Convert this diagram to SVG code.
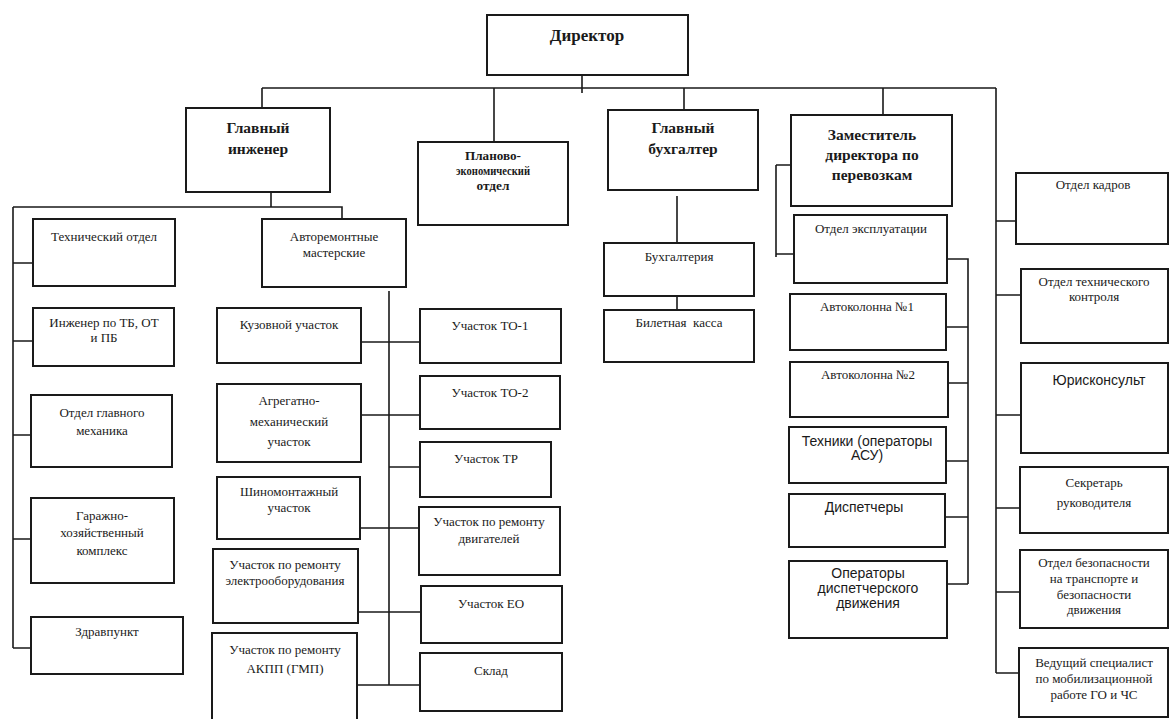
<svg xmlns="http://www.w3.org/2000/svg" width="1170" height="719" viewBox="0 0 1170 719">
<style>
  .bx{fill:#fff;stroke:#1a1a1a;stroke-width:2}
  .ln{fill:none;stroke:#1a1a1a;stroke-width:1.6}
  text{fill:#1a1a1a;text-anchor:middle}
  .t{font-family:"Liberation Serif","Times New Roman",serif;font-size:13px}
  .b{font-family:"Liberation Serif","Times New Roman",serif;font-weight:bold}
  .s{font-family:"Liberation Sans",Arial,sans-serif;font-size:14px}
</style>
<rect width="1170" height="719" fill="#fff"/>
<g id="connectors" class="ln">
  <path d="M582,75V93M262,88H996M262,88V108M494,88V142M684,88V110M883,88V115"/>
  <path d="M271,192V207M13,207H342V219M13,207V648M13,263H33M13,341H33M13,435H31M13,539H31M13,648H31"/>
  <path d="M389,291V685M361,342H420M361,415H420M389,467H420M360,528H420M358,612H421M357,685H420"/>
  <path d="M677,196V243M677,296V310"/>
  <path d="M776,165V257M776,165H791M776,254H794"/>
  <path d="M947,259H968V584M946,327H968M948,383H968M946,461H968M945,517H968M947,584H968"/>
  <path d="M996,88V673M996,221H1021M996,295H1021M996,415H1021M996,508H1020M996,592H1020M996,673H1019"/>
</g>
<g id="director"><rect class="bx" x="487" y="15" width="201" height="60"/><text class="b" font-size="17" x="587" y="41">Директор</text></g>
<g id="chief-engineer"><rect class="bx" x="186" y="108" width="144" height="84"/><text class="b" font-size="15.5"><tspan x="258" y="133">Главный</tspan><tspan x="258" y="154">инженер</tspan></text></g>
<g id="planning"><rect class="bx" x="418" y="142" width="150" height="83"/><text class="b" font-size="13"><tspan x="493" y="160" textLength="56" lengthAdjust="spacingAndGlyphs">Планово-</tspan><tspan x="493" y="175" textLength="74" lengthAdjust="spacingAndGlyphs">экономический</tspan><tspan x="493" y="190" textLength="33" lengthAdjust="spacingAndGlyphs">отдел</tspan></text></g>
<g id="chief-accountant"><rect class="bx" x="608" y="110" width="150" height="80"/><text class="b" font-size="15.5"><tspan x="683" y="133">Главный</tspan><tspan x="683" y="154">бухгалтер</tspan></text></g>
<g id="deputy"><rect class="bx" x="791" y="115" width="161" height="91"/><text class="b" font-size="15.5"><tspan x="872" y="140">Заместитель</tspan><tspan x="872" y="160">директора по</tspan><tspan x="872" y="180">перевозкам</tspan></text></g>

<g id="tech-dept"><rect class="bx" x="33" y="219" width="142" height="67"/><text class="t" x="104" y="241">Технический отдел</text></g>
<g id="safety-engineer"><rect class="bx" x="33" y="308" width="141" height="58"/><text class="t"><tspan x="104" y="327">Инженер по ТБ, ОТ</tspan><tspan x="104" y="342">и ПБ</tspan></text></g>
<g id="chief-mechanic"><rect class="bx" x="31" y="395" width="141" height="72"/><text class="t" font-size="14"><tspan x="102" y="417">Отдел главного</tspan><tspan x="102" y="435">механика</tspan></text></g>
<g id="garage"><rect class="bx" x="31" y="498" width="143" height="85"/><text class="t" font-size="14"><tspan x="102" y="520">Гаражно-</tspan><tspan x="102" y="537">хозяйственный</tspan><tspan x="102" y="555">комплекс</tspan></text></g>
<g id="medical"><rect class="bx" x="31" y="617" width="152" height="57"/><text class="t" x="107" y="636">Здравпункт</text></g>

<g id="workshops"><rect class="bx" x="262" y="219" width="144" height="68"/><text class="t"><tspan x="334" y="241">Авторемонтные</tspan><tspan x="334" y="257">мастерские</tspan></text></g>
<g id="body-shop"><rect class="bx" x="217" y="308" width="144" height="55"/><text class="t" x="289" y="329">Кузовной участок</text></g>
<g id="aggregate"><rect class="bx" x="217" y="384" width="144" height="78"/><text class="t" font-size="16"><tspan x="289" y="405">Агрегатно-</tspan><tspan x="289" y="426">механический</tspan><tspan x="289" y="446">участок</tspan></text></g>
<g id="tire"><rect class="bx" x="217" y="477" width="143" height="62"/><text class="t" font-size="12"><tspan x="289" y="496">Шиномонтажный</tspan><tspan x="289" y="512">участок</tspan></text></g>
<g id="electrical"><rect class="bx" x="213" y="549" width="145" height="74"/><text class="t" font-size="12.5"><tspan x="285" y="569">Участок по ремонту</tspan><tspan x="285" y="585">электрооборудования</tspan></text></g>
<g id="transmission"><rect class="bx" x="212" y="633" width="145" height="90"/><text class="t" font-size="15"><tspan x="285" y="654">Участок по ремонту</tspan><tspan x="285" y="673">АКПП (ГМП)</tspan></text></g>

<g id="to1"><rect class="bx" x="420" y="309" width="141" height="54"/><text class="t" font-size="14" x="490" y="330">Участок ТО-1</text></g>
<g id="to2"><rect class="bx" x="420" y="376" width="140" height="53"/><text class="t" font-size="14" x="490" y="397">Участок ТО-2</text></g>
<g id="tr"><rect class="bx" x="420" y="442" width="131" height="55"/><text class="t" font-size="14" x="486" y="463">Участок ТР</text></g>
<g id="engines"><rect class="bx" x="419" y="507" width="141" height="68"/><text class="t"><tspan x="489" y="526">Участок по ремонту</tspan><tspan x="489" y="543">двигателей</tspan></text></g>
<g id="eo"><rect class="bx" x="421" y="586" width="141" height="57"/><text class="t" font-size="14" x="491" y="608">Участок ЕО</text></g>
<g id="warehouse"><rect class="bx" x="420" y="653" width="142" height="58"/><text class="t" font-size="14" x="491" y="675">Склад</text></g>

<g id="accounting"><rect class="bx" x="604" y="243" width="150" height="53"/><text class="t" x="679" y="261">Бухгалтерия</text></g>
<g id="ticket-office"><rect class="bx" x="604" y="310" width="150" height="52"/><text class="t" x="679" y="327" xml:space="preserve">Билетная  касса</text></g>

<g id="operations"><rect class="bx" x="794" y="215" width="153" height="68"/><text class="t" x="871" y="233">Отдел эксплуатации</text></g>
<g id="column1"><rect class="bx" x="790" y="294" width="156" height="56"/><text class="t" x="867" y="311">Автоколонна №1</text></g>
<g id="column2"><rect class="bx" x="790" y="362" width="158" height="55"/><text class="t" x="868" y="379">Автоколонна №2</text></g>
<g id="technicians"><rect class="bx" x="789" y="427" width="157" height="56"/><text class="s" font-size="13"><tspan x="867" y="446">Техники (операторы</tspan><tspan x="867" y="460">АСУ)</tspan></text></g>
<g id="dispatchers"><rect class="bx" x="789" y="494" width="156" height="53"/><text class="s" x="864" y="512">Диспетчеры</text></g>
<g id="dispatch-operators"><rect class="bx" x="789" y="561" width="158" height="77"/><text class="s"><tspan x="868" y="578">Операторы</tspan><tspan x="868" y="593">диспетчерского</tspan><tspan x="868" y="608">движения</tspan></text></g>

<g id="hr"><rect class="bx" x="1016" y="173" width="152" height="71"/><text class="t" x="1093" y="189">Отдел кадров</text></g>
<g id="quality"><rect class="bx" x="1021" y="269" width="147" height="74"/><text class="t"><tspan x="1094" y="286">Отдел технического</tspan><tspan x="1094" y="301">контроля</tspan></text></g>
<g id="lawyer"><rect class="bx" x="1021" y="363" width="147" height="90"/><text class="s" x="1099" y="385">Юрисконсульт</text></g>
<g id="secretary"><rect class="bx" x="1020" y="467" width="148" height="66"/><text class="t"><tspan x="1094" y="487">Секретарь</tspan><tspan x="1094" y="507">руководителя</tspan></text></g>
<g id="transport-safety"><rect class="bx" x="1020" y="550" width="148" height="78"/><text class="t"><tspan x="1094" y="567">Отдел безопасности</tspan><tspan x="1094" y="583">на транспорте и</tspan><tspan x="1094" y="599">безопасности</tspan><tspan x="1094" y="614">движения</tspan></text></g>
<g id="mobilization"><rect class="bx" x="1019" y="648" width="149" height="69"/><text class="t"><tspan x="1094" y="667">Ведущий специалист</tspan><tspan x="1094" y="683">по мобилизационной</tspan><tspan x="1094" y="699">работе ГО и ЧС</tspan></text></g>
</svg>
